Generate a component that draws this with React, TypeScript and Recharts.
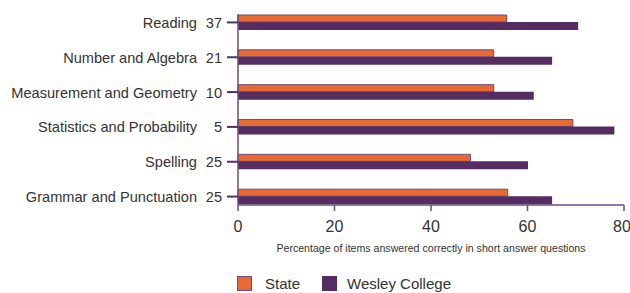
import React from "react";
import {
  BarChart,
  Bar,
  XAxis,
  YAxis,
} from "recharts";

const categories = [
  "Reading",
  "Number and Algebra",
  "Measurement and Geometry",
  "Statistics and Probability",
  "Spelling",
  "Grammar and Punctuation",
];
const itemCounts = [37, 21, 10, 5, 25, 25];
const stateValues = [55.7, 53.0, 53.0, 69.4, 48.2, 55.9];
const wesleyValues = [70.5, 65.1, 61.3, 78.0, 60.1, 65.1];
const xTicks = [0, 20, 40, 60, 80];

const FONT = '"Liberation Sans", Arial, Helvetica, sans-serif';
const TEXT = "#333333";
const AXIS = "#6b4c7c";
const ORANGE = "#e86a32";
const PURPLE = "#552d62";

const data = categories.map((name, i) => ({
  name,
  items: itemCounts[i],
  state: stateValues[i],
  wesley: wesleyValues[i],
}));

function CategoryTick(props: any) {
  const { y, payload, index } = props;
  return (
    <g className="category-tick">
      <path d={`M227,${y}H238`} stroke={PURPLE} strokeWidth={2} fill="none" />
      <text
        x={197}
        y={y + 0.5}
        textAnchor="end"
        dominantBaseline="central"
        fontSize={14.6}
        fill={TEXT}
        fontFamily={FONT}
      >
        {payload.value}
      </text>
      <text
        x={222}
        y={y + 0.5}
        textAnchor="end"
        dominantBaseline="central"
        fontSize={14.6}
        fill={TEXT}
        fontFamily={FONT}
      >
        {itemCounts[index]}
      </text>
    </g>
  );
}

export default function App() {
  return (
    <div style={{ position: "absolute", left: 0, top: 0, width: 630, height: 293, background: "#fff" }}>
      <BarChart
        width={630}
        height={293}
        data={data}
        layout="vertical"
        margin={{ top: 14, right: 6, bottom: 58, left: 0 }}
        barGap={0}
      >
        <XAxis
          type="number"
          domain={[0, 80]}
          ticks={xTicks}
          stroke={AXIS}
          strokeWidth={1.5}
          tickSize={6}
          tickMargin={10}
          height={30}
          tick={{ fontSize: 16, fill: TEXT, fontFamily: FONT }}
          label={{
            value: "Percentage of items answered correctly in short answer questions",
            position: "bottom",
            offset: 9,
            fontSize: 10.6,
            fill: TEXT,
            fontFamily: FONT,
          }}
        />
        <XAxis
          xAxisId="top"
          orientation="top"
          type="number"
          domain={[0, 80]}
          height={0}
          tick={false}
          tickLine={false}
          stroke={AXIS}
          strokeWidth={1.5}
        />
        <YAxis
          type="category"
          dataKey="name"
          width={238}
          padding={{ top: -9, bottom: -9 }}
          stroke={AXIS}
          strokeWidth={1.5}
          tickLine={false}
          tick={<CategoryTick />}
        />
        <YAxis
          yAxisId="right"
          orientation="right"
          type="category"
          dataKey="name"
          width={0}
          tick={false}
          tickLine={false}
          stroke={AXIS}
          strokeWidth={1.5}
        />
        <Bar
          dataKey="state"
          name="State"
          fill={ORANGE}
          stroke={AXIS}
          strokeWidth={1}
          barSize={7}
          isAnimationActive={false}
        />
        <Bar
          dataKey="wesley"
          name="Wesley College"
          fill={PURPLE}
          barSize={8}
          isAnimationActive={false}
        />
      </BarChart>
      <div
        style={{
          position: "absolute",
          top: 275,
          left: 237,
          display: "flex",
          alignItems: "center",
          fontFamily: FONT,
          fontSize: 15,
          color: TEXT,
        }}
      >
        <span style={{ width: 13, height: 13, background: ORANGE, border: `1.5px solid ${AXIS}`, display: "inline-block" }} />
        <span style={{ marginLeft: 13 }}>State</span>
        <span style={{ width: 15, height: 15, background: PURPLE, display: "inline-block", marginLeft: 22 }} />
        <span style={{ marginLeft: 10 }}>Wesley College</span>
      </div>
    </div>
  );
}
